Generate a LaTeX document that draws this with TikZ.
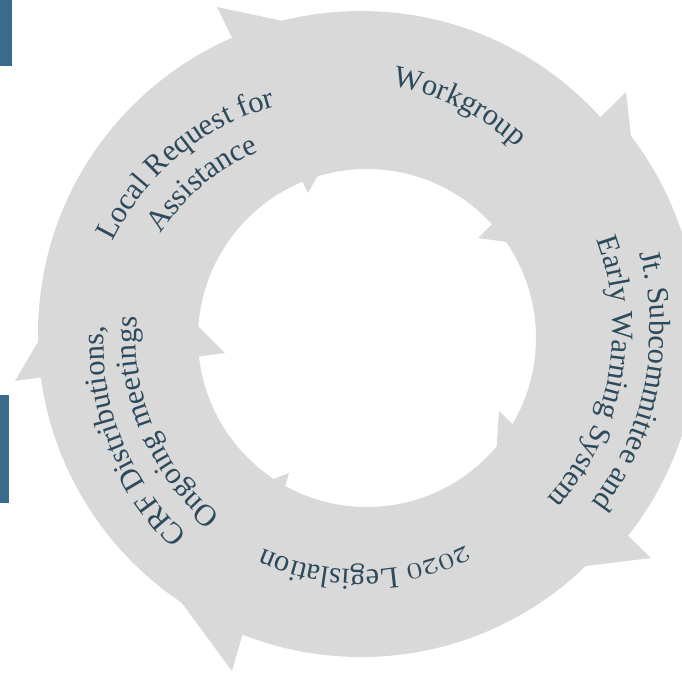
\documentclass[tikz,border=0pt]{standalone}
\usepackage{fix-cm}
\usepackage{fontspec}
\setmainfont{Liberation Serif}
\usetikzlibrary{decorations.text}
\definecolor{ringgray}{HTML}{D9D9D9}
\definecolor{txt}{HTML}{2C4A5C}
\definecolor{barblue}{HTML}{386B8C}
\newcommand\tfont{\fontsize{30.5}{36}\selectfont}
\newcommand\osf{\fontsize{33}{36}\usefont{OML}{cmm}{m}{it}}
% spiral text path: centre angle, half span, baseline radius at centre, slope (pt per degree)
\newcommand\lineat[5]{%
  \path[shift={(C)}, lab={#5}] plot[smooth, samples=50, domain={#1+#2}:{#1-#2}]
    (\x:{#3+#4*(\x-(#1))});}
\begin{document}
\begin{tikzpicture}[x=1pt,y=1pt,
  seg/.style={fill=ringgray},
  bar/.style={fill=barblue},
  lab/.style={decorate, decoration={text along path, text align=center, text color=txt, text={#1}}}]
\useasboundingbox (0,0) rectangle (682,-673);
\coordinate (C) at (361,-334);
\coordinate (Ci) at (367,-338);
\coordinate (Cj) at (372,-334);
% ring
\fill[seg, even odd rule] (C) circle[radius=323] (Ci) circle[radius=169];
% right segment sits slightly further out
\fill[seg] ([shift={(40:250)}]Cj) arc[start angle=40, end angle=-39, radius=250]
  -- ([shift={(-39:326)}]Cj) arc[start angle=-39, end angle=40, radius=326] -- cycle;
% arrowheads (outer flange, tip, inner barb)
\fill[seg] (217,-7) -- (391,-44) -- (308,-193) -- cycle;
\fill[seg] (626,-92) -- (645,-261) -- (478,-238) -- cycle;
\fill[seg] (651,-558) -- (488,-578) -- (499,-411) -- cycle;
\fill[seg] (232,-671) -- (131,-534) -- (289,-473) -- cycle;
\fill[seg] (15,-381) -- (103,-231) -- (225,-353) -- cycle;
% side bars
\fill[bar] (0,0) rectangle (12,-66);
\fill[bar] (0,-395) rectangle (9,-503);
% labels (text runs clockwise along each segment)
\lineat{132.5}{60}{253}{0.45}{|\tfont|Local Request for}
\lineat{133}{60}{215}{0.45}{|\tfont|Assistance}
\lineat{65}{60}{246}{0.22}{|\tfont|Workgroup}
\lineat{-10.5}{60}{288}{0.09}{|\tfont|Jt. Subcommittee and}
\lineat{-10.3}{60}{251}{0.09}{|\tfont|Early Warning System}
\lineat{-89}{60}{236}{0}{|\osf|2020|\tfont| Legislation}
\lineat{202.7}{60}{261}{0.17}{|\tfont|CRF Distributions,}
\lineat{203.3}{60}{227}{0.1}{|\tfont|Ongoing meetings}
\end{tikzpicture}
\end{document}
